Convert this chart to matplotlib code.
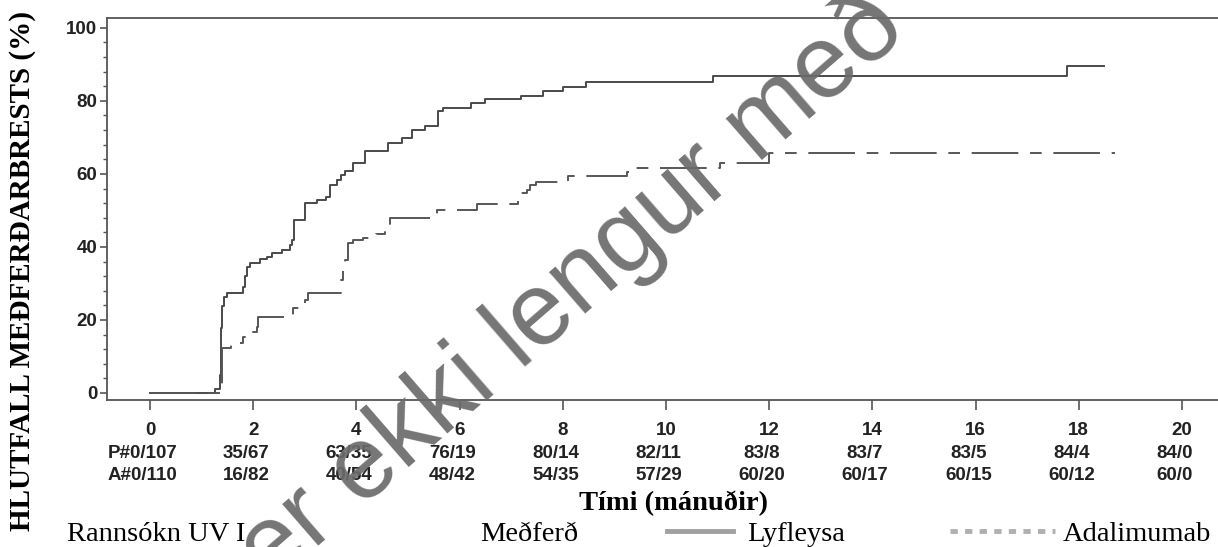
import matplotlib
matplotlib.use("Agg")
import matplotlib.pyplot as plt
import matplotlib.transforms as mtrans
from matplotlib.lines import Line2D
from matplotlib.ticker import MultipleLocator

# Kaplan-Meier style cumulative treatment failure (%), step points (month, %)
placebo_t = [0, 1.26, 1.36, 1.38, 1.40, 1.44, 1.49, 1.81, 1.85, 1.88, 1.94, 2.13, 2.26, 2.36,
             2.55, 2.71, 2.76, 2.80, 3.00, 3.23, 3.42, 3.49, 3.62, 3.71, 3.78, 3.94, 4.17, 4.62,
             4.88, 5.07, 5.33, 5.59, 5.68, 6.23, 6.49, 7.20, 7.62, 8.01, 8.46, 10.92, 17.78, 18.50]
placebo_v = [0, 1.0, 5.0, 17.8, 23.7, 26.4, 27.5, 29.1, 32.0, 34.6, 35.6, 36.6, 37.3, 38.3,
             39.2, 40.4, 41.9, 47.4, 52.0, 52.9, 53.8, 57.0, 58.4, 59.7, 60.8, 62.9, 66.4, 68.6,
             69.8, 72.1, 73.2, 77.3, 78.0, 79.3, 80.4, 81.4, 82.6, 83.9, 85.3, 86.8, 89.6, 89.6]
adalim_t = [0, 1.40, 1.58, 1.81, 1.91, 2.00, 2.07, 2.10, 2.78, 2.91, 3.00, 3.07, 3.71, 3.74,
            3.78, 3.84, 3.94, 4.13, 4.39, 4.55, 4.65, 5.56, 6.33, 7.13, 7.20, 7.30, 7.36, 7.49,
            8.11, 9.24, 9.33, 11.05, 12.0, 18.7]
adalim_v = [0, 12.2, 13.8, 15.3, 15.9, 16.8, 18.2, 20.8, 23.2, 24.3, 25.5, 27.5, 31.0, 35.1,
            36.5, 41.0, 41.9, 42.4, 43.5, 45.6, 47.8, 50.2, 51.8, 53.1, 54.7, 55.6, 57.0, 57.8,
            59.4, 60.4, 61.5, 62.9, 65.8, 65.8]

tick_months = list(range(0, 21, 2))
risk_placebo = ["P#0/107", "35/67", "63/35", "76/19", "80/14", "82/11", "83/8", "83/7", "83/5", "84/4", "84/0"]
risk_adalim = ["A#0/110", "16/82", "40/54", "48/42", "54/35", "57/29", "60/20", "60/17", "60/15", "60/12", "60/0"]
y_ticks = [0, 20, 40, 60, 80, 100]

W, H = 1218, 547
fig = plt.figure(figsize=(W / 100, H / 100), dpi=100)
ax = fig.add_axes([107 / W, (H - 400) / H, (W - 107) / W, (400 - 18) / H])

ax.step(placebo_t, placebo_v, where='post', color='#4a4a4a', lw=1.4)
ax.step(adalim_t, adalim_v, where='post', color='#575757', lw=1.4, linestyle=(0, (24, 6, 6, 6)))

ax.set_xlim(-0.833, 20.70)
ax.set_ylim(-1.92, 102.7)
ax.spines['right'].set_visible(False)
for s in ('left', 'top', 'bottom'):
    ax.spines[s].set_color('#555555'); ax.spines[s].set_linewidth(1.3)

tick_font = dict(family='Liberation Sans', weight='bold', size=13.5, color='#222222')
ax.set_xticks(tick_months)
ax.set_xticklabels([str(t) for t in tick_months], **tick_font)
ax.set_yticks(y_ticks)
ax.set_yticklabels([str(v) for v in y_ticks], **tick_font)
ax.yaxis.set_minor_locator(MultipleLocator(4))
ax.tick_params(axis='y', which='major', length=5, width=1.2, pad=2, color='#555555')
ax.tick_params(axis='y', which='minor', length=3, width=1.0, color='#555555')
ax.tick_params(axis='x', which='major', length=7, width=1.2, pad=9, color='#555555')

# risk table below the x tick labels
trans = mtrans.blended_transform_factory(ax.transData, fig.transFigure)
for t, p, a in zip(tick_months, risk_placebo, risk_adalim):
    ax.text(t - 0.14, 1 - 454 / H, p, transform=trans, ha='center', va='center', **tick_font)
    ax.text(t - 0.14, 1 - 476 / H, a, transform=trans, ha='center', va='center', **tick_font)

serif = 'Liberation Serif'
fig.text(23 / W, 1 - 271 / H, 'HLUTFALL MEÐFERÐARBRESTS (%)', rotation=90, ha='center', va='center',
         family=serif, weight='bold', size=21)
fig.text(673 / W, 1 - 510 / H, 'Tími (mánuðir)', ha='center', va='baseline',
         family=serif, weight='bold', size=20.5)

# bottom legend row
base = 1 - 541 / H
fig.text(67 / W, base, 'Rannsókn UV I', ha='left', va='baseline', family=serif, size=20.5)
fig.text(480 / W, base, 'Meðferð', ha='left', va='baseline', family=serif, size=20.5)
fig.add_artist(Line2D([667 / W, 733 / W], [1 - 531 / H] * 2, transform=fig.transFigure,
                      color='#a0a0a0', lw=3.5))
fig.text(747 / W, base, 'Lyfleysa', ha='left', va='baseline', family=serif, size=20.5)
fig.add_artist(Line2D([950 / W, 1055 / W], [1 - 531 / H] * 2, transform=fig.transFigure,
                      color='#b0b0b0', lw=3.5, linestyle=(0, (1.5, 1.5))))
fig.text(1063 / W, base, 'Adalimumab', ha='left', va='baseline', family=serif, size=20.5)

# watermark
fig.text(571 / W, 1 - 290 / H, 'er ekki lengur með', rotation=41, rotation_mode='anchor',
         ha='center', va='center', family='Liberation Sans', size=74, color='#6a6a6a',
         alpha=0.92, zorder=10)

fig.savefig('out.png', dpi=100)
